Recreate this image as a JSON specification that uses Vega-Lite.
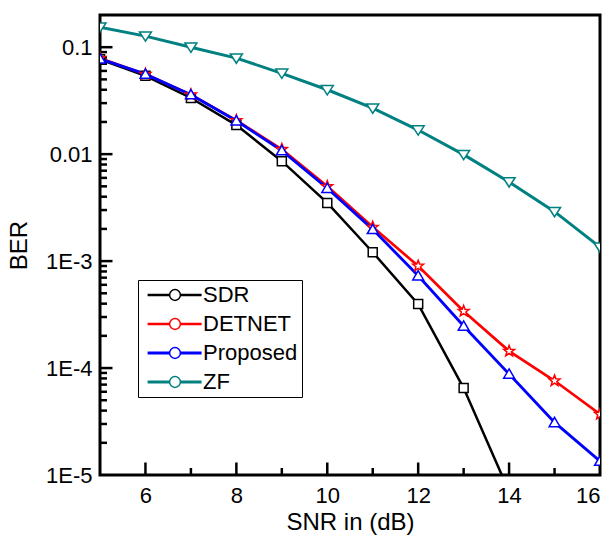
{
  "$schema": "https://vega.github.io/schema/vega-lite/v6.json",
  "width": 500,
  "height": 460,
  "autosize": {"type": "none"},
  "padding": {"left": 100, "top": 15, "right": 14, "bottom": 66},
  "background": "white",
  "config": {
    "view": {"stroke": "black", "strokeWidth": 3},
    "font": "Liberation Sans",
    "axis": {
      "grid": false,
      "domain": false,
      "ticks": false,
      "labelColor": "black",
      "titleColor": "black",
      "labelFont": "Liberation Sans",
      "titleFont": "Liberation Sans",
      "labelFontSize": 22,
      "titleFontSize": 24,
      "titleFontWeight": "normal"
    }
  },
  "datasets": {
    "xticks": [
      {"v": 6, "kind": "major"}, {"v": 7, "kind": "minor"}, {"v": 8, "kind": "major"}, {"v": 9, "kind": "minor"},
      {"v": 10, "kind": "major"}, {"v": 11, "kind": "minor"}, {"v": 12, "kind": "major"}, {"v": 13, "kind": "minor"},
      {"v": 14, "kind": "major"}, {"v": 15, "kind": "minor"}
    ],
    "yticks": [
      {"v": 0.00002, "kind": "minor"}, {"v": 0.00003, "kind": "minor"}, {"v": 0.00004, "kind": "minor"}, {"v": 0.00005, "kind": "minor"},
      {"v": 0.00006, "kind": "minor"}, {"v": 0.00007, "kind": "minor"}, {"v": 0.00008, "kind": "minor"}, {"v": 0.00009, "kind": "minor"},
      {"v": 0.0001, "kind": "major"},
      {"v": 0.0002, "kind": "minor"}, {"v": 0.0003, "kind": "minor"}, {"v": 0.0004, "kind": "minor"}, {"v": 0.0005, "kind": "minor"},
      {"v": 0.0006, "kind": "minor"}, {"v": 0.0007, "kind": "minor"}, {"v": 0.0008, "kind": "minor"}, {"v": 0.0009, "kind": "minor"},
      {"v": 0.001, "kind": "major"},
      {"v": 0.002, "kind": "minor"}, {"v": 0.003, "kind": "minor"}, {"v": 0.004, "kind": "minor"}, {"v": 0.005, "kind": "minor"},
      {"v": 0.006, "kind": "minor"}, {"v": 0.007, "kind": "minor"}, {"v": 0.008, "kind": "minor"}, {"v": 0.009, "kind": "minor"},
      {"v": 0.01, "kind": "major"},
      {"v": 0.02, "kind": "minor"}, {"v": 0.03, "kind": "minor"}, {"v": 0.04, "kind": "minor"}, {"v": 0.05, "kind": "minor"},
      {"v": 0.06, "kind": "minor"}, {"v": 0.07, "kind": "minor"}, {"v": 0.08, "kind": "minor"}, {"v": 0.09, "kind": "minor"},
      {"v": 0.1, "kind": "major"}
    ],
    "ber": [
      {"snr": 5, "ber": 0.077, "series": "SDR"},
      {"snr": 6, "ber": 0.054, "series": "SDR"},
      {"snr": 7, "ber": 0.0335, "series": "SDR"},
      {"snr": 8, "ber": 0.0187, "series": "SDR"},
      {"snr": 9, "ber": 0.0086, "series": "SDR"},
      {"snr": 10, "ber": 0.0035, "series": "SDR"},
      {"snr": 11, "ber": 0.00121, "series": "SDR"},
      {"snr": 12, "ber": 0.000396, "series": "SDR"},
      {"snr": 13, "ber": 0.000065, "series": "SDR"},
      {"snr": 14, "ber": 0.000007, "series": "SDR"},
      {"snr": 5, "ber": 0.079, "series": "DETNET"},
      {"snr": 6, "ber": 0.056, "series": "DETNET"},
      {"snr": 7, "ber": 0.036, "series": "DETNET"},
      {"snr": 8, "ber": 0.0207, "series": "DETNET"},
      {"snr": 9, "ber": 0.0111, "series": "DETNET"},
      {"snr": 10, "ber": 0.005, "series": "DETNET"},
      {"snr": 11, "ber": 0.00208, "series": "DETNET"},
      {"snr": 12, "ber": 0.0009, "series": "DETNET"},
      {"snr": 13, "ber": 0.00034, "series": "DETNET"},
      {"snr": 14, "ber": 0.000144, "series": "DETNET"},
      {"snr": 15, "ber": 0.000076, "series": "DETNET"},
      {"snr": 16, "ber": 0.000037, "series": "DETNET"},
      {"snr": 5, "ber": 0.078, "series": "Proposed"},
      {"snr": 6, "ber": 0.056, "series": "Proposed"},
      {"snr": 7, "ber": 0.036, "series": "Proposed"},
      {"snr": 8, "ber": 0.0205, "series": "Proposed"},
      {"snr": 9, "ber": 0.0108, "series": "Proposed"},
      {"snr": 10, "ber": 0.0048, "series": "Proposed"},
      {"snr": 11, "ber": 0.00198, "series": "Proposed"},
      {"snr": 12, "ber": 0.00073, "series": "Proposed"},
      {"snr": 13, "ber": 0.000247, "series": "Proposed"},
      {"snr": 14, "ber": 0.000088, "series": "Proposed"},
      {"snr": 15, "ber": 0.000031, "series": "Proposed"},
      {"snr": 16, "ber": 0.0000135, "series": "Proposed"},
      {"snr": 5, "ber": 0.154, "series": "ZF"},
      {"snr": 6, "ber": 0.127, "series": "ZF"},
      {"snr": 7, "ber": 0.1, "series": "ZF"},
      {"snr": 8, "ber": 0.079, "series": "ZF"},
      {"snr": 9, "ber": 0.057, "series": "ZF"},
      {"snr": 10, "ber": 0.04, "series": "ZF"},
      {"snr": 11, "ber": 0.0269, "series": "ZF"},
      {"snr": 12, "ber": 0.0168, "series": "ZF"},
      {"snr": 13, "ber": 0.0099, "series": "ZF"},
      {"snr": 14, "ber": 0.0055, "series": "ZF"},
      {"snr": 15, "ber": 0.0029, "series": "ZF"},
      {"snr": 16, "ber": 0.00135, "series": "ZF"}
    ]
  },
  "layer": [
    {
      "data": {"name": "xticks"},
      "mark": {"type": "tick", "orient": "vertical", "clip": true, "color": "black", "thickness": 2.5, "opacity": 1},
      "encoding": {
        "x": {
          "field": "v",
          "type": "quantitative",
          "axis": {"orient": "bottom", "values": [6, 8, 10, 12, 14, 16], "labelPadding": 10, "labelFontSize": 22, "title": "SNR in (dB)", "titlePadding": 4}
        },
        "y": {
          "datum": 0.00001,
          "type": "quantitative",
          "axis": {"orient": "left", "values": [0.00001, 0.0001, 0.001, 0.01, 0.1], "labelPadding": 8, "labelFontSize": 22, "labelExpr": "datum.value >= 0.05 ? '0.1' : datum.value >= 0.005 ? '0.01' : '1E-' + round(-log(datum.value) / LN10)", "title": "BER", "titlePadding": 14}
        },
        "size": {"field": "kind", "type": "nominal", "scale": {"domain": ["major", "minor"], "range": [25, 14]}, "legend": null}
      }
    },
    {
      "data": {"name": "yticks"},
      "mark": {"type": "tick", "orient": "horizontal", "clip": true, "color": "black", "thickness": 2.5, "opacity": 1},
      "encoding": {
        "x": {
          "datum": 5,
          "type": "quantitative",
          "axis": {"orient": "bottom", "values": [6, 8, 10, 12, 14, 16], "labelPadding": 10, "labelFontSize": 22, "title": "SNR in (dB)", "titlePadding": 4}
        },
        "y": {
          "field": "v",
          "type": "quantitative",
          "axis": {"orient": "left", "values": [0.00001, 0.0001, 0.001, 0.01, 0.1], "labelPadding": 8, "labelFontSize": 22, "labelExpr": "datum.value >= 0.05 ? '0.1' : datum.value >= 0.005 ? '0.01' : '1E-' + round(-log(datum.value) / LN10)", "title": "BER", "titlePadding": 14}
        },
        "size": {"field": "kind", "type": "nominal", "scale": {"domain": ["major", "minor"], "range": [25, 14]}, "legend": null}
      }
    },
    {
      "data": {"name": "ber"},
      "mark": {"type": "line", "clip": true},
      "encoding": {
        "x": {
          "field": "snr",
          "type": "quantitative",
          "scale": {"domain": [5, 16], "nice": false, "zero": false},
          "axis": {"orient": "bottom", "values": [6, 8, 10, 12, 14, 16], "labelPadding": 10, "labelFontSize": 22, "title": "SNR in (dB)", "titlePadding": 4}
        },
        "y": {
          "field": "ber",
          "type": "quantitative",
          "scale": {"type": "log", "domain": [0.00001, 0.2], "nice": false},
          "axis": {"orient": "left", "values": [0.00001, 0.0001, 0.001, 0.01, 0.1], "labelPadding": 8, "labelFontSize": 22, "labelExpr": "datum.value >= 0.05 ? '0.1' : datum.value >= 0.005 ? '0.01' : '1E-' + round(-log(datum.value) / LN10)", "title": "BER", "titlePadding": 14}
        },
        "color": {
          "field": "series",
          "type": "nominal",
          "scale": {"domain": ["SDR", "DETNET", "Proposed", "ZF"], "range": ["black", "#ff0000", "#0000ff", "#008080"]},
          "legend": {
            "title": null,
            "orient": "none",
            "legendX": 38,
            "legendY": 265,
            "padding": 4,
            "strokeColor": "black",
            "symbolType": "M-1,0H9",
            "symbolSize": 116.64,
            "symbolStrokeWidth": 3,
            "labelOffset": 39,
            "labelFontSize": 22,
            "labelFont": "Liberation Sans",
            "labelColor": "black",
            "rowPadding": 7
          }
        },
        "strokeWidth": {
          "field": "series",
          "type": "nominal",
          "scale": {"domain": ["SDR", "DETNET", "Proposed", "ZF"], "range": [2.5, 3, 3, 3]},
          "legend": null
        }
      }
    },
    {
      "data": {"name": "ber"},
      "mark": {"type": "point", "clip": true, "filled": false, "fill": "white", "strokeWidth": 1.5, "size": 144, "opacity": 1},
      "encoding": {
        "x": {
          "field": "snr",
          "type": "quantitative",
          "axis": {"orient": "bottom", "values": [6, 8, 10, 12, 14, 16], "labelPadding": 10, "labelFontSize": 22, "title": "SNR in (dB)", "titlePadding": 4}
        },
        "y": {
          "field": "ber",
          "type": "quantitative",
          "axis": {"orient": "left", "values": [0.00001, 0.0001, 0.001, 0.01, 0.1], "labelPadding": 8, "labelFontSize": 22, "labelExpr": "datum.value >= 0.05 ? '0.1' : datum.value >= 0.005 ? '0.01' : '1E-' + round(-log(datum.value) / LN10)", "title": "BER", "titlePadding": 14}
        },
        "stroke": {
          "field": "series",
          "type": "nominal",
          "sort": ["SDR", "DETNET", "Proposed", "ZF"],
          "scale": {"range": ["black", "#ff0000", "#0000ff", "#008080"]},
          "legend": {
            "title": null,
            "orient": "none",
            "legendX": 38,
            "legendY": 265,
            "padding": 4,
            "symbolOffset": 22,
            "symbolSize": 116.64,
            "symbolStrokeWidth": 1.5,
            "symbolFillColor": "white",
            "labelOffset": 39,
            "labelFontSize": 22,
            "labelFont": "Liberation Sans",
            "labelOpacity": 0,
            "rowPadding": 7
          }
        },
        "shape": {
          "field": "series",
          "type": "nominal",
          "sort": ["SDR", "DETNET", "Proposed", "ZF"],
          "scale": {
            "range": [
              "M-0.75,-0.75H0.75V0.75H-0.75Z",
              "M0,-0.95L0.235,-0.324L0.904,-0.294L0.38,0.124L0.558,0.769L0,0.4L-0.558,0.769L-0.38,0.124L-0.904,-0.294L-0.235,-0.324Z",
              "M0,-0.85L0.9,0.7L-0.9,0.7Z",
              "M-1,-0.7L1,-0.7L0,0.85Z"
            ]
          },
          "legend": {
            "title": null,
            "orient": "none",
            "legendX": 38,
            "legendY": 265,
            "padding": 4,
            "symbolOffset": 22,
            "symbolSize": 116.64,
            "symbolStrokeWidth": 1.5,
            "symbolFillColor": "white",
            "labelOffset": 39,
            "labelFontSize": 22,
            "labelFont": "Liberation Sans",
            "labelOpacity": 0,
            "rowPadding": 7
          }
        }
      }
    }
  ]
}
